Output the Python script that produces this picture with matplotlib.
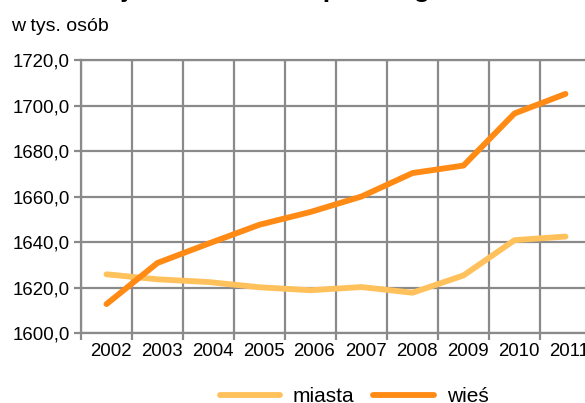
import matplotlib.pyplot as plt
from matplotlib.ticker import FuncFormatter, FixedLocator
from matplotlib.transforms import ScaledTranslation

plt.rcParams['font.family'] = ['Liberation Sans', 'DejaVu Sans']

years = ['2002', '2003', '2004', '2005', '2006', '2007', '2008', '2009', '2010', '2011']
miasta = [1625.8, 1623.6, 1622.4, 1620.1, 1618.8, 1620.2, 1617.7, 1625.3, 1640.8, 1642.4]
wies = [1612.7, 1630.8, 1639.3, 1647.6, 1653.2, 1660.0, 1670.3, 1673.6, 1696.5, 1705.1]

fig = plt.figure(figsize=(5.85, 4.03), dpi=100)
ax = fig.add_axes([81 / 585, 70 / 403, 510 / 585, 273 / 403])

x = list(range(len(years)))
ax.plot(x, miasta, color='#ffc15c', lw=4.2, solid_capstyle='round', label='miasta', zorder=3)
ax.plot(x, wies, color='#ff8a14', lw=4.2, solid_capstyle='round', label='wieś', zorder=4)

ax.set_xlim(-0.5, len(years) - 0.5)
ax.set_ylim(1600, 1720)
ax.set_yticks(range(1600, 1721, 20))
ax.yaxis.set_major_formatter(FuncFormatter(lambda v, p: f'{v:.1f}'.replace('.', ',')))
ax.set_xticks(x)
ax.set_xticklabels(years)
ax.xaxis.set_minor_locator(FixedLocator([i + 0.5 for i in range(-1, len(years))]))

grid_c = '#8a8a8a'
ax.grid(axis='y', which='major', color=grid_c, lw=1.6)
ax.grid(axis='x', which='minor', color=grid_c, lw=1.6)
ax.set_axisbelow(True)
for s in ax.spines.values():
    s.set_color(grid_c)
    s.set_linewidth(1.6)

ax.tick_params(axis='x', which='major', length=0, labelsize=13.4, pad=7)
ax.tick_params(axis='x', which='minor', length=5, width=1.6, color=grid_c)
ax.tick_params(axis='y', length=5, width=1.6, color=grid_c, labelsize=13.4, pad=3)
shift = ScaledTranslation(4 / 100, 0, fig.dpi_scale_trans)
for lbl in ax.get_xticklabels():
    lbl.set_transform(lbl.get_transform() + shift)

fig.text(11 / 585, 1 - 31 / 403, 'w tys. osób', fontsize=14, va='baseline', ha='left')
# title is cropped in the reference, only the descenders peek in
fig.text(446 / 585, 1.008, 'Ludność województwa małopolskiego', fontsize=19,
         fontweight='bold', ha='right', va='baseline')

fig.legend(loc='center', bbox_to_anchor=(354 / 585, 1 - 397 / 403), ncol=2, frameon=False,
           fontsize=15, handlelength=2.9, columnspacing=0.9, handletextpad=0.62)

fig.savefig('out.png', dpi=100)
